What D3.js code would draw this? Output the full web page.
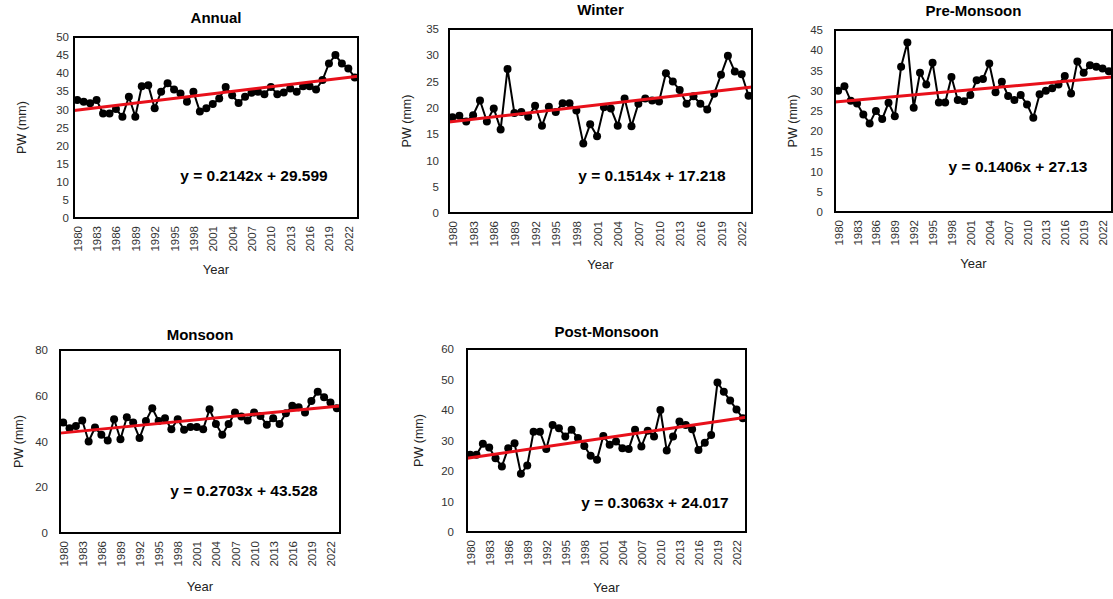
<!DOCTYPE html>
<html>
<head>
<meta charset="utf-8">
<script src="https://cdn.jsdelivr.net/npm/d3@7"></script>
<style>
  body { margin: 0; background: #fff; }
  svg { display: block; font-family: "Liberation Sans", Arial, sans-serif; }
</style>
</head>
<body>
<svg id="chart" width="1113" height="599"></svg>
<script>
// categories
var years = [1980,1981,1982,1983,1984,1985,1986,1987,1988,1989,1990,1991,1992,1993,1994,1995,
  1996,1997,1998,1999,2000,2001,2002,2003,2004,2005,2006,2007,2008,2009,2010,2011,2012,2013,
  2014,2015,2016,2017,2018,2019,2020,2021,2022,2023];
var yearTicks = [1980,1983,1986,1989,1992,1995,1998,2001,2004,2007,2010,2013,2016,2019,2022];

// PW (mm) series
var annual = [32.6,32.1,31.7,32.6,28.9,28.9,30.1,28.0,33.5,28.0,36.4,36.7,30.3,34.9,37.2,35.5,
  34.4,32.1,34.9,29.4,30.3,31.5,33.0,36.2,33.9,31.8,33.5,34.6,34.9,34.2,36.2,34.2,34.7,35.8,
  34.9,36.4,36.4,35.5,38.1,42.7,45.0,42.7,41.3,38.8];
var winter = [18.2,18.5,17.4,18.6,21.4,17.4,19.9,15.9,27.4,19.0,19.2,18.3,20.4,16.6,20.2,19.2,
  20.9,20.9,19.5,13.2,16.9,14.6,20.1,19.9,16.6,21.8,16.5,20.8,21.8,21.4,21.2,26.6,25.0,23.4,
  20.8,22.2,20.8,19.7,22.7,26.3,29.9,26.9,26.4,22.3];
var preMonsoon = [30.0,31.1,27.5,26.8,24.1,21.9,25.0,23.0,27.0,23.7,35.9,41.9,25.8,34.4,31.5,36.9,
  27.1,27.1,33.4,27.7,27.4,28.9,32.6,32.9,36.7,29.6,32.2,28.7,27.7,28.9,26.6,23.3,29.1,30.0,
  30.6,31.5,33.6,29.3,37.2,34.4,36.3,35.9,35.5,34.8];
var monsoon = [48.3,45.8,46.8,49.2,40.0,46.1,42.9,40.4,49.7,41.0,50.6,48.3,41.5,49.0,54.5,49.0,
  50.2,45.4,49.7,45.1,46.3,46.3,45.4,54.1,47.7,42.9,47.7,52.7,50.9,49.2,52.7,51.2,47.3,50.2,
  47.7,52.4,55.6,55.0,52.7,57.7,61.8,59.3,57.0,54.5];
var postMonsoon = [25.3,25.3,28.9,27.7,24.2,21.5,27.5,29.1,19.1,21.8,32.9,32.9,27.2,35.1,34.0,31.3,
  33.5,30.8,28.2,25.0,23.7,31.5,28.6,29.7,27.5,27.2,33.5,28.0,33.2,31.3,40.0,26.7,31.3,36.2,
  35.1,33.7,26.9,29.3,31.8,49.0,46.0,43.1,40.2,37.3];

// trend lines (x = year index starting at 1)
var slopes = [0.2142, 0.1514, 0.1406, 0.2703, 0.3063];
var intercepts = [29.599, 17.218, 27.13, 43.528, 24.017];
var yMaxes = [50, 35, 45, 80, 60];
var ySteps = [5, 5, 5, 20, 10];
var titles = ["Annual", "Winter", "Pre-Monsoon", "Monsoon", "Post-Monsoon"];
var seriesList = [annual, winter, preMonsoon, monsoon, postMonsoon];

// layout of each panel: plot box, title y, equation position, axis-label positions
var layout = [
  {l: 74,  t: 37,  r: 358,  b: 218, titleY: 23,  eqX: 254, eqY: 181, ylabX: 22,  yearY: 274, tickGap: 5},
  {l: 449, t: 29,  r: 752,  b: 213, titleY: 15,  eqX: 652, eqY: 181, ylabX: 407, yearY: 269, tickGap: 10},
  {l: 835, t: 30,  r: 1112, b: 212, titleY: 16,  eqX: 1018, eqY: 172, ylabX: 793, yearY: 268, tickGap: 12},
  {l: 60,  t: 350, r: 340,  b: 533, titleY: 340, eqX: 244, eqY: 496, ylabX: 19,  yearY: 591, tickGap: 12},
  {l: 467, t: 349, r: 746,  b: 532, titleY: 337, eqX: 655, eqY: 508, ylabX: 419, yearY: 592, tickGap: 13}
];

var svg = d3.select("#chart");

for (var p = 0; p < 5; p++) {
  var L = layout[p];
  var values = seriesList[p];
  var g = svg.append("g");

  var x = d3.scalePoint().domain(years).range([L.l, L.r]).padding(0.5);
  var xIdx = d3.scaleLinear().domain([0.5, years.length + 0.5]).range([L.l, L.r]);
  var y = d3.scaleLinear().domain([0, yMaxes[p]]).range([L.b, L.t]);

  // y axis labels
  var yAxis = d3.axisLeft(y)
    .tickValues(d3.range(0, yMaxes[p] + 0.001, ySteps[p]))
    .tickSize(0)
    .tickPadding(L.tickGap);
  g.append("g")
    .attr("transform", "translate(" + L.l + ",0)")
    .call(yAxis)
    .call(function(a) { a.select(".domain").remove(); })
    .selectAll("text")
      .style("font-size", "11.5px")
      .attr("fill", "#333");

  // x axis labels, rotated
  var xAxis = d3.axisBottom(x).tickValues(yearTicks).tickSize(0).tickFormat(d3.format("d"));
  g.append("g")
    .attr("transform", "translate(0," + L.b + ")")
    .call(xAxis)
    .call(function(a) { a.select(".domain").remove(); })
    .selectAll("text")
      .style("font-size", "11.5px")
      .attr("fill", "#333")
      .attr("text-anchor", "end")
      .attr("dy", "0.35em")
      .attr("transform", "translate(0,8) rotate(-90)")
      .attr("x", 0).attr("y", 0);

  // data line + markers
  var line = d3.line()
    .x(function(d, i) { return x(years[i]); })
    .y(function(d) { return y(d); });
  g.append("path")
    .datum(values)
    .attr("d", line)
    .attr("fill", "none")
    .attr("stroke", "#000")
    .attr("stroke-width", 2);
  g.selectAll(".dot")
    .data(values)
    .enter()
    .append("circle")
      .attr("cx", function(d, i) { return x(years[i]); })
      .attr("cy", function(d) { return y(d); })
      .attr("r", 4)
      .attr("fill", "#000");

  // linear trend line
  var x0 = 0.5, x1 = years.length + 0.5;
  g.append("line")
    .attr("x1", xIdx(x0)).attr("y1", y(slopes[p] * x0 + intercepts[p]))
    .attr("x2", xIdx(x1)).attr("y2", y(slopes[p] * x1 + intercepts[p]))
    .attr("stroke", "#e8101a")
    .attr("stroke-width", 3);

  // plot border
  g.append("rect")
    .attr("x", L.l).attr("y", L.t)
    .attr("width", L.r - L.l).attr("height", L.b - L.t)
    .attr("fill", "none")
    .attr("stroke", "#000")
    .attr("stroke-width", 2);

  // title
  g.append("text")
    .attr("x", (L.l + L.r) / 2).attr("y", L.titleY)
    .attr("text-anchor", "middle")
    .style("font-size", "15px").style("font-weight", "bold")
    .text(titles[p]);

  // trend equation
  g.append("text")
    .attr("x", L.eqX).attr("y", L.eqY)
    .attr("text-anchor", "middle")
    .style("font-size", "15.5px").style("font-weight", "bold")
    .text("y = " + slopes[p] + "x + " + intercepts[p]);

  // axis titles
  g.append("text")
    .attr("transform", "translate(" + L.ylabX + "," + ((L.t + L.b) / 2) + ") rotate(-90)")
    .attr("text-anchor", "middle")
    .attr("dy", "0.35em")
    .style("font-size", "12.5px")
    .attr("fill", "#222")
    .text("PW (mm)");
  g.append("text")
    .attr("x", (L.l + L.r) / 2).attr("y", L.yearY)
    .attr("text-anchor", "middle")
    .style("font-size", "13px")
    .attr("fill", "#222")
    .text("Year");
}
</script>
</body>
</html>
